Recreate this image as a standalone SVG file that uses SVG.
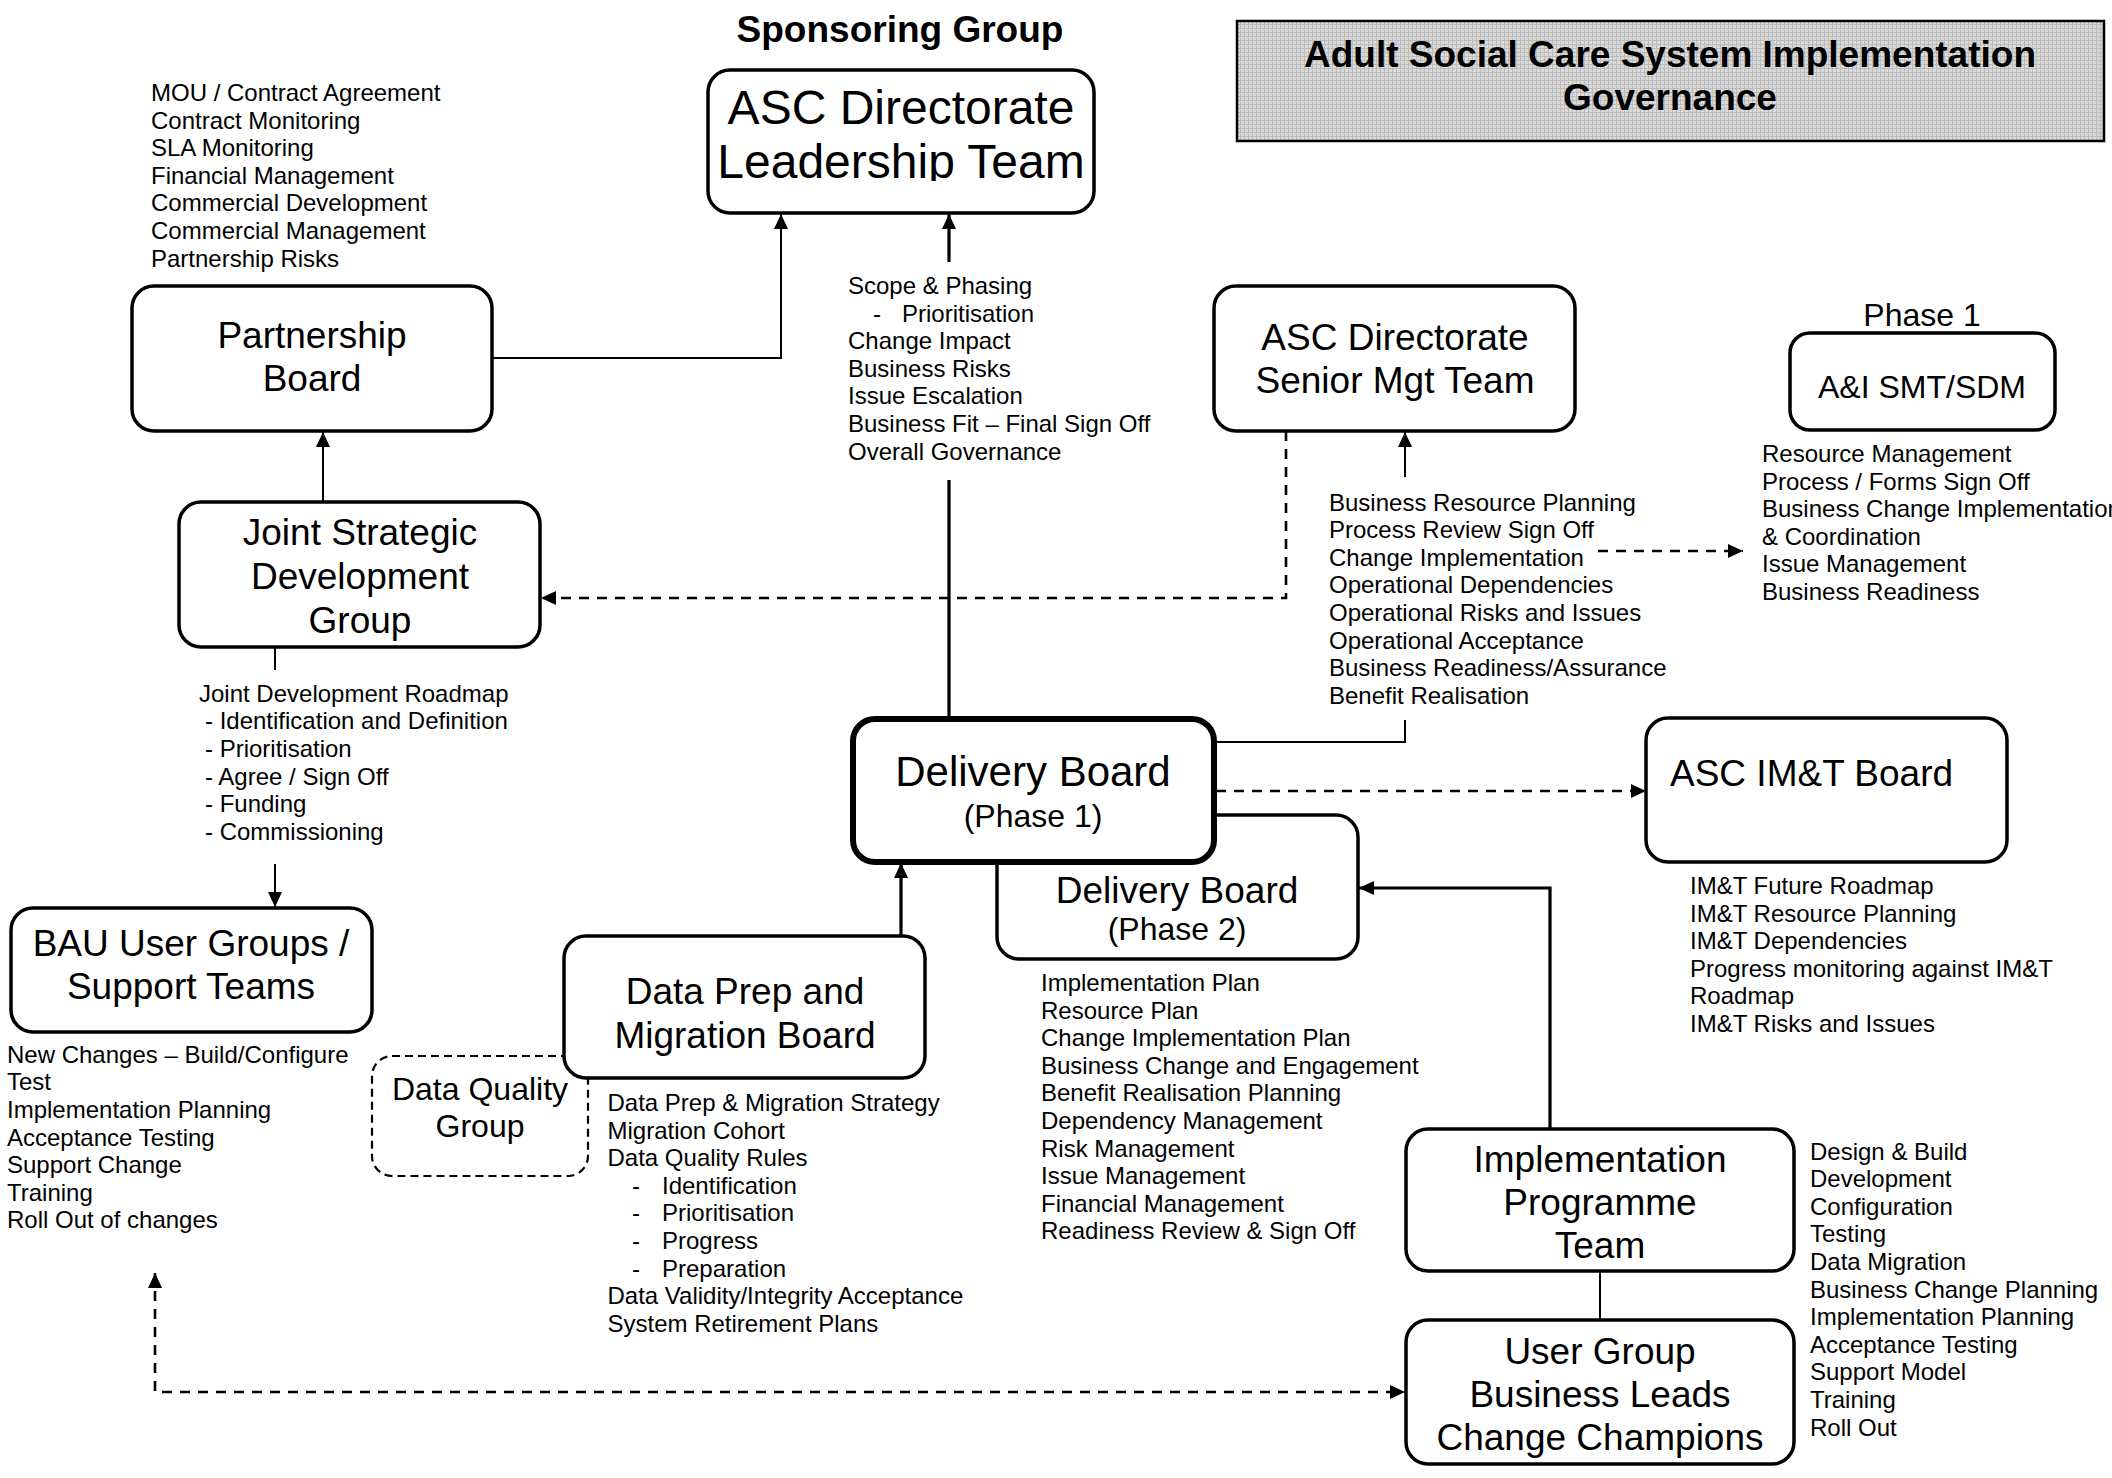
<svg xmlns="http://www.w3.org/2000/svg" width="2112" height="1478" viewBox="0 0 2112 1478">
<style>
text{font-family:"Liberation Sans",Arial,sans-serif;fill:#000}
.box{fill:#fff;stroke:#000;stroke-width:3.5}
.thick{fill:#fff;stroke:#000;stroke-width:6}
.dqbox{fill:#fff;stroke:#000;stroke-width:2.2;stroke-dasharray:8 5}
.n37{font-size:37px;text-anchor:middle}
.n32{font-size:32px;text-anchor:middle}
.n42{font-size:42px;text-anchor:middle}
.n48{font-size:48px;text-anchor:middle}
.b37{font-size:37px;font-weight:bold;text-anchor:middle}
.lst{font-size:24px}
.ln{fill:none;stroke:#000;stroke-width:2}
.lnt{fill:none;stroke:#000;stroke-width:3.2}
.dsh{fill:none;stroke:#000;stroke-width:2.6;stroke-dasharray:10 8}
</style>
<defs>
<marker id="ah" markerUnits="userSpaceOnUse" markerWidth="16" markerHeight="14" refX="15" refY="7" orient="auto-start-reverse">
<path d="M0,0 L15,7 L0,14 z" fill="#000"/>
</marker>
<pattern id="hatch" width="4" height="4" patternUnits="userSpaceOnUse">
<rect width="4" height="4" fill="#dadada"/>
<path d="M0,0.5 H4 M0.5,0 V4" stroke="#bcbcbc" stroke-width="1"/>
</pattern>
<clipPath id="clipLT"><rect x="700" y="70" width="400" height="111"/></clipPath>
</defs>
<rect width="2112" height="1478" fill="#fff"/>

<g id="title">
<rect x="1237" y="21" width="867" height="120" fill="url(#hatch)" stroke="#000" stroke-width="2.5"/>
<text class="b37" x="1670" y="67">Adult Social Care System Implementation</text>
<text class="b37" x="1670" y="110">Governance</text>
</g>

<g id="sponsoring-label">
<text class="b37" x="900" y="42">Sponsoring Group</text>
</g>

<g id="connectors">
<path class="ln" d="M492,358 H781 V214" marker-end="url(#ah)"/>
<path class="lnt" d="M949,262 V214" marker-end="url(#ah)"/>
<path class="lnt" d="M949,480 V718"/>
<path class="ln" d="M323,502 V432" marker-end="url(#ah)"/>
<path class="ln" d="M275,647 V670"/>
<path class="ln" d="M275,864 V907" marker-end="url(#ah)"/>
<path class="dsh" d="M1286,431 V598 H541" marker-end="url(#ah)"/>
<path class="ln" d="M1405,477 V432" marker-end="url(#ah)"/>
<path class="ln" d="M1214,742 H1405 V720"/>
<path class="dsh" d="M1598,551 H1743" marker-end="url(#ah)"/>
<path class="dsh" d="M1216,791 H1646" marker-end="url(#ah)"/>
<path class="lnt" d="M1550,1129 V888 H1359" marker-end="url(#ah)"/>
<path class="lnt" d="M901,936 V863" marker-end="url(#ah)"/>
<path class="ln" d="M1600,1271 V1320"/>
<path class="dsh" d="M155,1273 V1392 H1405" marker-start="url(#ah)" marker-end="url(#ah)"/>
</g>

<g id="asc-leadership-team">
<rect class="box" x="708" y="70" width="386" height="143" rx="22"/>
<g clip-path="url(#clipLT)">
<text class="n48" x="901" y="124">ASC Directorate</text>
<text class="n48" x="901" y="178">Leadership Team</text>
</g>
</g>

<g id="partnership-board">
<rect class="box" x="132" y="286" width="360" height="145" rx="22"/>
<text class="n37" x="312" y="348">Partnership</text>
<text class="n37" x="312" y="391">Board</text>
</g>

<g id="joint-strategic-development-group">
<rect class="box" x="179" y="502" width="361" height="145" rx="22"/>
<text class="n37" x="360" y="545">Joint Strategic</text>
<text class="n37" x="360" y="589">Development</text>
<text class="n37" x="360" y="633">Group</text>
</g>

<g id="asc-senior-mgt-team">
<rect class="box" x="1214" y="286" width="361" height="145" rx="22"/>
<text class="n37" x="1395" y="350">ASC Directorate</text>
<text class="n37" x="1395" y="393">Senior Mgt Team</text>
</g>

<g id="ai-smt-sdm">
<text class="n32" x="1922" y="326">Phase 1</text>
<rect class="box" x="1790" y="333" width="265" height="97" rx="20"/>
<text class="n32" x="1922" y="398">A&amp;I SMT/SDM</text>
</g>

<g id="bau-user-groups">
<rect class="box" x="11" y="908" width="361" height="124" rx="22"/>
<text class="n37" x="191" y="956">BAU User Groups /</text>
<text class="n37" x="191" y="999">Support Teams</text>
</g>

<g id="data-quality-group">
<rect class="dqbox" x="372" y="1056" width="216" height="120" rx="20"/>
<text class="n32" x="480" y="1100">Data Quality</text>
<text class="n32" x="480" y="1137">Group</text>
</g>

<g id="data-prep-migration-board">
<rect class="box" x="564" y="936" width="361" height="142" rx="22"/>
<text class="n37" x="745" y="1004">Data Prep and</text>
<text class="n37" x="745" y="1048">Migration Board</text>
</g>

<g id="delivery-board-phase2">
<rect class="box" x="997" y="815" width="361" height="144" rx="22"/>
<text class="n37" x="1177" y="903">Delivery Board</text>
<text class="n32" x="1177" y="940">(Phase 2)</text>
</g>

<g id="delivery-board-phase1">
<rect class="thick" x="853" y="719" width="361" height="143" rx="22"/>
<text class="n42" x="1033" y="786">Delivery Board</text>
<text class="n32" x="1033" y="827">(Phase 1)</text>
</g>

<g id="asc-imt-board">
<rect class="box" x="1646" y="718" width="361" height="144" rx="22"/>
<text font-size="37" x="1670" y="786">ASC IM&amp;T Board</text>
</g>

<g id="implementation-programme-team">
<rect class="box" x="1406" y="1129" width="388" height="142" rx="22"/>
<text class="n37" x="1600" y="1172">Implementation</text>
<text class="n37" x="1600" y="1215">Programme</text>
<text class="n37" x="1600" y="1258">Team</text>
</g>

<g id="user-group-business-leads">
<rect class="box" x="1406" y="1320" width="388" height="144" rx="22"/>
<text class="n37" x="1600" y="1364">User Group</text>
<text class="n37" x="1600" y="1407">Business Leads</text>
<text class="n37" x="1600" y="1450">Change Champions</text>
</g>

<g id="notes-partnership">
<text class="lst" x="151" y="101">MOU / Contract Agreement</text>
<text class="lst" x="151" y="128.6">Contract Monitoring</text>
<text class="lst" x="151" y="156.2">SLA Monitoring</text>
<text class="lst" x="151" y="183.8">Financial Management</text>
<text class="lst" x="151" y="211.4">Commercial Development</text>
<text class="lst" x="151" y="239">Commercial Management</text>
<text class="lst" x="151" y="266.6">Partnership Risks</text>
</g>

<g id="notes-leadership">
<text class="lst" x="848" y="294">Scope &amp; Phasing</text>
<text class="lst" x="873" y="321.6">-</text>
<text class="lst" x="902" y="321.6">Prioritisation</text>
<text class="lst" x="848" y="349.2">Change Impact</text>
<text class="lst" x="848" y="376.8">Business Risks</text>
<text class="lst" x="848" y="404.4">Issue Escalation</text>
<text class="lst" x="848" y="432">Business Fit – Final Sign Off</text>
<text class="lst" x="848" y="459.6">Overall Governance</text>
</g>

<g id="notes-senior">
<text class="lst" x="1329" y="510.5">Business Resource Planning</text>
<text class="lst" x="1329" y="538.1">Process Review Sign Off</text>
<text class="lst" x="1329" y="565.7">Change Implementation</text>
<text class="lst" x="1329" y="593.3">Operational Dependencies</text>
<text class="lst" x="1329" y="620.9">Operational Risks and Issues</text>
<text class="lst" x="1329" y="648.5">Operational Acceptance</text>
<text class="lst" x="1329" y="676.1">Business Readiness/Assurance</text>
<text class="lst" x="1329" y="703.7">Benefit Realisation</text>
</g>

<g id="notes-ai">
<text class="lst" x="1762" y="462">Resource Management</text>
<text class="lst" x="1762" y="489.6">Process / Forms Sign Off</text>
<text class="lst" x="1762" y="517.2">Business Change Implementation</text>
<text class="lst" x="1762" y="544.8">&amp; Coordination</text>
<text class="lst" x="1762" y="572.4">Issue Management</text>
<text class="lst" x="1762" y="600">Business Readiness</text>
</g>

<g id="notes-jsdg">
<text class="lst" x="199" y="701.7">Joint Development Roadmap</text>
<text class="lst" x="205" y="729.3">- Identification and Definition</text>
<text class="lst" x="205" y="756.9">- Prioritisation</text>
<text class="lst" x="205" y="784.5">- Agree / Sign Off</text>
<text class="lst" x="205" y="812.1">- Funding</text>
<text class="lst" x="205" y="839.7">- Commissioning</text>
</g>

<g id="notes-bau">
<text class="lst" x="7" y="1062.7">New Changes – Build/Configure</text>
<text class="lst" x="7" y="1090.3">Test</text>
<text class="lst" x="7" y="1117.9">Implementation Planning</text>
<text class="lst" x="7" y="1145.5">Acceptance Testing</text>
<text class="lst" x="7" y="1173.1">Support Change</text>
<text class="lst" x="7" y="1200.7">Training</text>
<text class="lst" x="7" y="1228.3">Roll Out of changes</text>
</g>

<g id="notes-dataprep">
<text class="lst" x="607.5" y="1111">Data Prep &amp; Migration Strategy</text>
<text class="lst" x="607.5" y="1138.6">Migration Cohort</text>
<text class="lst" x="607.5" y="1166.2">Data Quality Rules</text>
<text class="lst" x="632" y="1193.8">-</text>
<text class="lst" x="662" y="1193.8">Identification</text>
<text class="lst" x="632" y="1221.4">-</text>
<text class="lst" x="662" y="1221.4">Prioritisation</text>
<text class="lst" x="632" y="1249">-</text>
<text class="lst" x="662" y="1249">Progress</text>
<text class="lst" x="632" y="1276.6">-</text>
<text class="lst" x="662" y="1276.6">Preparation</text>
<text class="lst" x="607.5" y="1304.2">Data Validity/Integrity Acceptance</text>
<text class="lst" x="607.5" y="1331.8">System Retirement Plans</text>
</g>

<g id="notes-phase2">
<text class="lst" x="1041" y="991">Implementation Plan</text>
<text class="lst" x="1041" y="1018.6">Resource Plan</text>
<text class="lst" x="1041" y="1046.2">Change Implementation Plan</text>
<text class="lst" x="1041" y="1073.8">Business Change and Engagement</text>
<text class="lst" x="1041" y="1101.4">Benefit Realisation Planning</text>
<text class="lst" x="1041" y="1129">Dependency Management</text>
<text class="lst" x="1041" y="1156.6">Risk Management</text>
<text class="lst" x="1041" y="1184.2">Issue Management</text>
<text class="lst" x="1041" y="1211.8">Financial Management</text>
<text class="lst" x="1041" y="1239.4">Readiness Review &amp; Sign Off</text>
</g>

<g id="notes-imt">
<text class="lst" x="1690" y="894">IM&amp;T Future Roadmap</text>
<text class="lst" x="1690" y="921.6">IM&amp;T Resource Planning</text>
<text class="lst" x="1690" y="949.2">IM&amp;T Dependencies</text>
<text class="lst" x="1690" y="976.8">Progress monitoring against IM&amp;T</text>
<text class="lst" x="1690" y="1004.4">Roadmap</text>
<text class="lst" x="1690" y="1032">IM&amp;T Risks and Issues</text>
</g>

<g id="notes-implementation">
<text class="lst" x="1810" y="1159.6">Design &amp; Build</text>
<text class="lst" x="1810" y="1187.2">Development</text>
<text class="lst" x="1810" y="1214.8">Configuration</text>
<text class="lst" x="1810" y="1242.4">Testing</text>
<text class="lst" x="1810" y="1270">Data Migration</text>
<text class="lst" x="1810" y="1297.6">Business Change Planning</text>
<text class="lst" x="1810" y="1325.2">Implementation Planning</text>
<text class="lst" x="1810" y="1352.8">Acceptance Testing</text>
<text class="lst" x="1810" y="1380.4">Support Model</text>
<text class="lst" x="1810" y="1408">Training</text>
<text class="lst" x="1810" y="1435.6">Roll Out</text>
</g>
</svg>
